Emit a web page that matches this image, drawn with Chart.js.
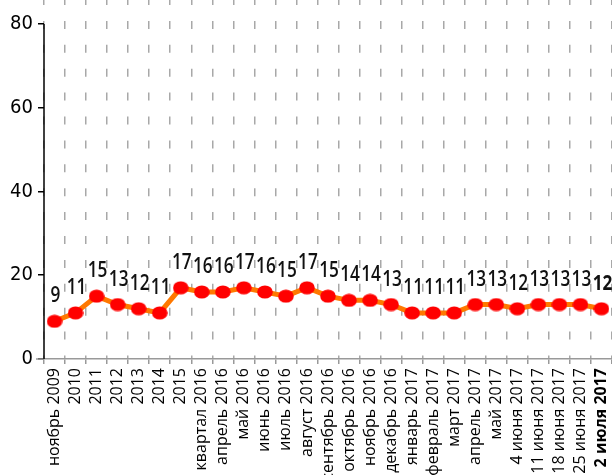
<!DOCTYPE html>
<html>
<head>
<meta charset="utf-8">
<script src="https://cdn.jsdelivr.net/npm/chart.js@4.4.1/dist/chart.umd.min.js"></script>
<style>
  html, body { margin: 0; padding: 0; background: #fff; }
  #wrap { width: 612px; height: 475px; }
</style>
</head>
<body>
<div id="wrap"><canvas id="grafico"></canvas></div>
<script>
// периоды и значения
const periodos = ['ноябрь 2009', '2010', '2011', '2012', '2013', '2014', '2015', 'I квартал 2016',
    'апрель 2016', 'май 2016', 'июнь 2016', 'июль 2016', 'август 2016', 'сентябрь 2016',
    'октябрь 2016', 'ноябрь 2016', 'декабрь 2016', 'январь 2017', 'февраль 2017', 'март 2017',
    'апрель 2017', 'май 2017', '4 июня 2017', '11 июня 2017', '18 июня 2017', '25 июня 2017', '2 июля 2017'];
const valores = [9, 11, 15, 13, 12, 11, 17, 16, 16, 17, 16, 15, 17, 15, 14, 14, 13, 11, 11, 11, 13, 13, 12, 13, 13, 13, 12];
const marcasY = [0, 20, 40, 60, 80];

const ultimo = valores.length - 1;

// punto rojo un poco ovalado
function crearPunto() {
    const c = document.createElement('canvas');
    c.width = 16; c.height = 14;
    const g = c.getContext('2d');
    g.fillStyle = '#ff0000';
    g.beginPath();
    g.ellipse(8, 7, 7.8, 6.6, 0, 0, Math.PI * 2);
    g.fill();
    return c;
}

// números encima de los puntos, letra estrecha
const etiquetasPlugin = {
    id: 'etiquetas',
    afterDatasetsDraw(chart) {
        const ctx = chart.ctx;
        const meta = chart.getDatasetMeta(0);
        const estrecho = 0.82;
        ctx.save();
        ctx.fillStyle = '#111';
        ctx.textAlign = 'center';
        ctx.textBaseline = 'middle';
        meta.data.forEach((pt, i) => {
            ctx.save();
            ctx.translate(pt.x + 1, pt.y - 25);
            ctx.scale(estrecho, 1);
            ctx.font = (i === ultimo ? 'bold ' : '600 ') + '21px "Open Sans", sans-serif';
            ctx.fillText(chart.data.datasets[0].data[i], 0, 0);
            ctx.restore();
        });
        ctx.restore();
    }
};

// eje Y negro solo hasta 80, eje X un poco más largo a la izquierda
const ejesPlugin = {
    id: 'ejes',
    afterDraw(chart) {
        const ctx = chart.ctx;
        const y = chart.scales.y;
        const area = chart.chartArea;
        ctx.save();
        ctx.strokeStyle = '#999';
        ctx.lineWidth = 1.5;
        ctx.beginPath();
        ctx.moveTo(area.left - 8, area.bottom);
        ctx.lineTo(area.left, area.bottom);
        ctx.stroke();
        ctx.strokeStyle = '#000';
        ctx.lineWidth = 1.5;
        ctx.beginPath();
        ctx.moveTo(area.left, y.getPixelForValue(0));
        ctx.lineTo(area.left, y.getPixelForValue(marcasY[marcasY.length - 1]));
        ctx.stroke();
        ctx.restore();
    }
};

new Chart(document.getElementById('grafico').getContext('2d'), {
    type: 'line',
    data: {
        labels: periodos,
        datasets: [{
            data: valores,
            borderColor: '#ff7800',
            borderWidth: 5,
            tension: 0,
            pointStyle: crearPunto(),
            pointRadius: 7,
            pointHoverRadius: 7
        }]
    },
    options: {
        responsive: true,
        maintainAspectRatio: false,
        animation: false,
        layout: { padding: 0, autoPadding: false },
        plugins: {
            legend: { display: false },
            tooltip: { enabled: false },
            title: { display: false }
        },
        scales: {
            x: {
                offset: true,
                grid: {
                    offset: true,
                    color: '#a8a8a8',
                    lineWidth: 1.5,
                    tickLength: 5,
                    tickColor: '#999',
                    drawTicks: true
                },
                border: { display: true, color: '#999', width: 1.5, dash: [8, 15.9], dashOffset: 3 },
                ticks: {
                    autoSkip: false,
                    minRotation: 90,
                    maxRotation: 90,
                    padding: 4,
                    color: '#000',
                    font: (c) => ({
                        family: '"Open Sans", "Noto Sans", sans-serif',
                        size: 16,
                        weight: c.index === ultimo ? 'bold' : 'normal'
                    })
                },
                afterFit(s) {
                    s.height = 116;
                    s.paddingLeft = 0;
                    s.paddingRight = 0;
                }
            },
            y: {
                min: 0,
                max: 85.7,
                afterBuildTicks(s) {
                    s.ticks = marcasY.map(v => ({ value: v }));
                },
                grid: {
                    drawOnChartArea: false,
                    tickLength: 6,
                    tickColor: '#000',
                    lineWidth: 1.5
                },
                border: { display: false },
                ticks: {
                    padding: 5,
                    color: '#000',
                    font: { family: '"DejaVu Sans Condensed", sans-serif', size: 20 }
                },
                afterFit(s) {
                    s.width = 44;
                    s.paddingTop = 0;
                    s.paddingBottom = 0;
                }
            }
        }
    },
    plugins: [etiquetasPlugin, ejesPlugin]
});
</script>
</body>
</html>
